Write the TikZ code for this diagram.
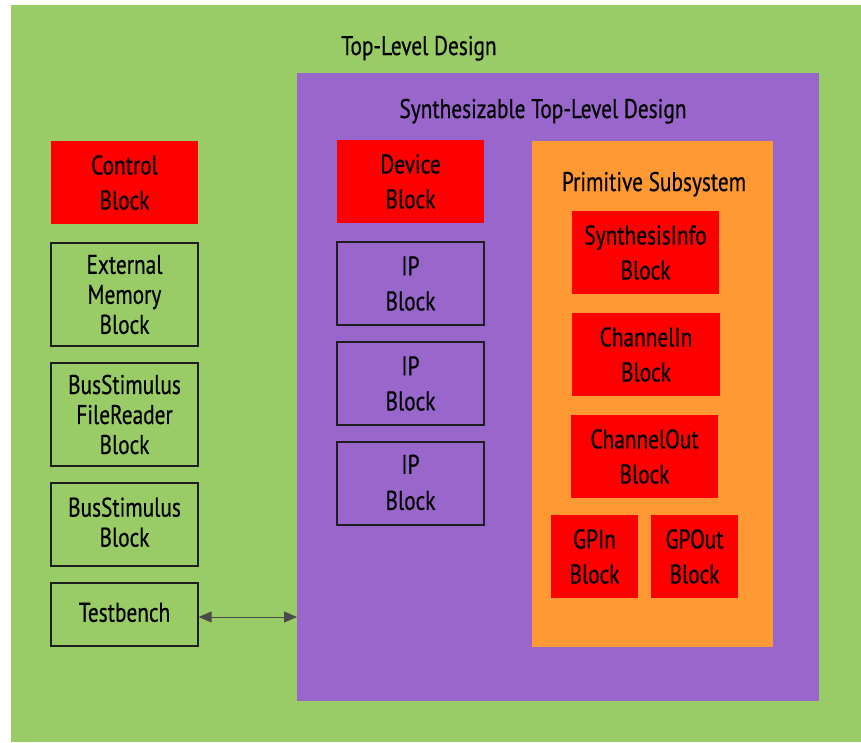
\documentclass[tikz,border=0pt]{standalone}
\usepackage{fontspec}
\setmainfont[FakeStretch=0.79,FakeBold=0.5]{PT Sans}
\usetikzlibrary{arrows.meta}
\definecolor{tgreen}{RGB}{153,204,102}
\definecolor{tpurple}{RGB}{153,102,204}
\definecolor{torange}{RGB}{255,153,51}
\definecolor{tred}{RGB}{255,0,0}
\definecolor{tline}{RGB}{30,30,30}
\tikzset{
  blk/.style={inner sep=0pt, align=center, text=black,
    font=\fontsize{27}{35}\selectfont},
  blkt/.style={blk, font=\fontsize{27}{30}\selectfont},
  padtop/.style={execute at begin node={\rule{0pt}{#1}}},
  padbot/.style={execute at end node={\rule[-#1]{0pt}{#1}}},
  redblk/.style={fill=tred, draw=none},
  outblk/.style={draw=tline, line width=1.3pt},
  ttl/.style={inner sep=0pt, anchor=base, font=\fontsize{27}{30}\selectfont},
  link/.style={draw=tline!80, line width=1pt, {Triangle[length=13pt,width=11pt]}-{Triangle[length=13pt,width=11pt]}}
}
\begin{document}
\begin{tikzpicture}[x=1pt,y=-1pt]
\useasboundingbox (0,0) rectangle (861,742);
% top-level design
\fill[tgreen] (11,5) rectangle (861,742);
\node[ttl] (tld) at (419,55) {Top-Level Design};
% synthesizable
\fill[tpurple] (297,73) rectangle (819,701);
\coordinate (synleft) at (297,617);
\node[ttl] (syn) at (543,118) {Synthesizable Top-Level Design};
% primitive subsystem
\fill[torange] (532,141) rectangle (773,647);
\node[ttl] (prim) at (654,191) {Primitive Subsystem};
% left column
\node[blk, redblk, padtop=27pt, minimum width=147pt, minimum height=83pt] (ctrl) at (124.5,182.5) {Control\\Block};
\node[blkt, outblk, padtop=23pt, minimum width=147pt, minimum height=103pt] (extmem) at (124.5,294.5) {External\\Memory\\Block};
\node[blkt, outblk, padtop=21pt, minimum width=147pt, minimum height=103pt] (bsfr) at (124.5,414.5) {BusStimulus\\FileReader\\Block};
\node[blkt, outblk, padbot=5pt, minimum width=147pt, minimum height=83pt] (bs) at (124.5,524.5) {BusStimulus\\Block};
\node[blk, outblk, padbot=4.5pt, minimum width=147pt, minimum height=63pt] (tb) at (124.5,614.5) {Testbench};
% middle column
\node[blk, redblk, padtop=25pt, minimum width=147pt, minimum height=83pt] (dev) at (410.5,181.5) {Device\\Block};
\node[blk, outblk, padtop=24pt, minimum width=147pt, minimum height=83pt] (ip1) at (410.5,283.5) {IP\\Block};
\node[blk, outblk, padtop=24pt, minimum width=147pt, minimum height=83pt] (ip2) at (410.5,383.5) {IP\\Block};
\node[blk, outblk, padbot=2.5pt, font=\fontsize{27}{36}\selectfont, minimum width=147pt, minimum height=83pt] (ip3) at (410.5,483.5) {IP\\Block};
% primitive blocks
\node[blk, redblk, padtop=20pt, minimum width=147pt, minimum height=83pt] (si) at (645.5,252.5) {SynthesisInfo\\Block};
\node[blk, redblk, padtop=26pt, minimum width=148pt, minimum height=83pt] (chin) at (646,354.5) {ChannelIn\\Block};
\node[blk, redblk, padtop=25pt, minimum width=147pt, minimum height=83pt] (chout) at (644.5,456.5) {ChannelOut\\Block};
\node[blk, redblk, padtop=26pt, minimum width=87pt, minimum height=83pt] (gpin) at (594.5,556.5) {GPIn\\Block};
\node[blk, redblk, padtop=26pt, minimum width=87pt, minimum height=83pt] (gpout) at (694.5,556.5) {GPOut\\Block};
% connector
\draw[link] (tb.east |- synleft) -- (synleft);
\end{tikzpicture}
\end{document}
